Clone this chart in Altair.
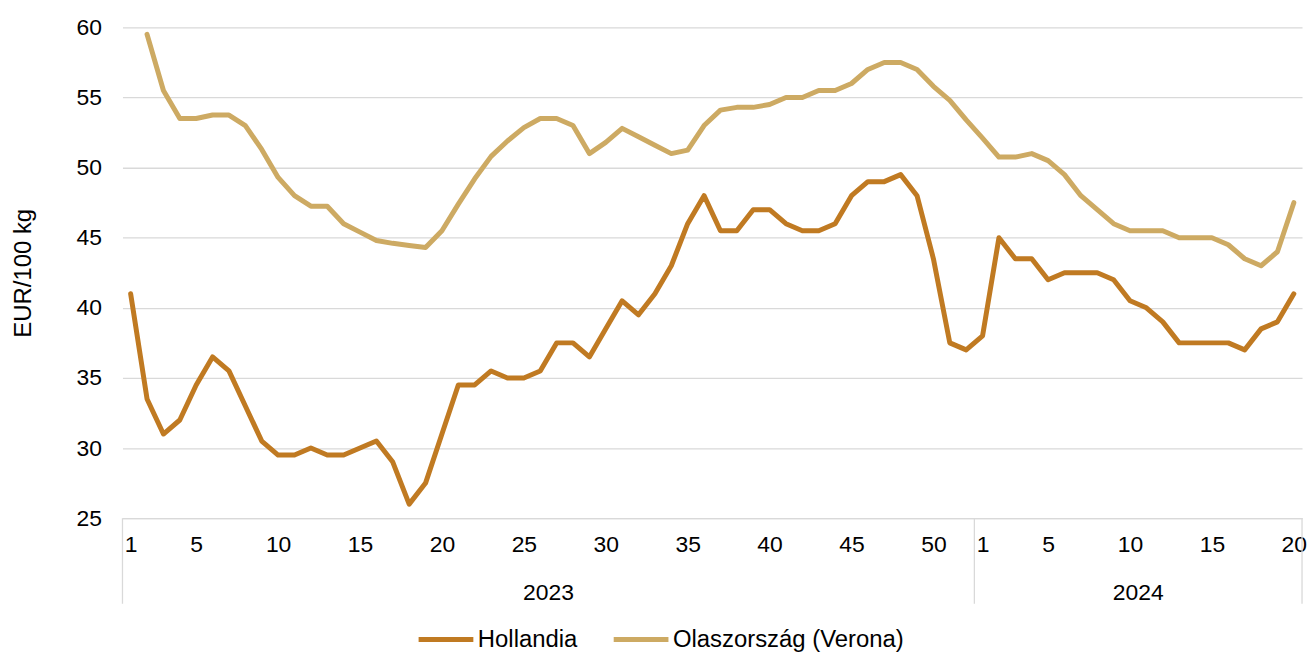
import altair as alt
import pandas as pd

# ---------------- data ----------------
series_names = ["Hollandia", "Olaszország (Verona)"]
series_colors = ["#C07A22", "#CDAA63"]

weeks_2023 = list(range(1, 53))
weeks_2024 = list(range(1, 21))

hollandia_2023 = [41, 33.5, 31, 32, 34.5, 36.5, 35.5, 33, 30.5, 29.5,
                  29.5, 30, 29.5, 29.5, 30, 30.5, 29, 26, 27.5, 31,
                  34.5, 34.5, 35.5, 35, 35, 35.5, 37.5, 37.5, 36.5, 38.5,
                  40.5, 39.5, 41, 43, 46, 48, 45.5, 45.5, 47, 47,
                  46, 45.5, 45.5, 46, 48, 49, 49, 49.5, 48, 43.5,
                  37.5, 37]
hollandia_2024 = [38, 45, 43.5, 43.5, 42, 42.5, 42.5, 42.5, 42, 40.5,
                  40, 39, 37.5, 37.5, 37.5, 37.5, 37, 38.5, 39, 41]

olasz_2023 = [None, 59.5, 55.5, 53.5, 53.5, 53.75, 53.75, 53, 51.3, 49.3,
              48, 47.25, 47.25, 46, 45.4, 44.8, 44.6, 44.45, 44.3, 45.5,
              47.4, 49.2, 50.8, 51.9, 52.85, 53.5, 53.5, 53, 51, 51.8,
              52.8, 52.2, 51.6, 51, 51.25, 53, 54.1, 54.3, 54.3, 54.5,
              55, 55, 55.5, 55.5, 56, 57, 57.5, 57.5, 57, 55.8,
              54.8, 53.4]
olasz_2024 = [52.1, 50.75, 50.75, 51, 50.5, 49.5, 48, 47, 46, 45.5,
              45.5, 45.5, 45, 45, 45, 44.5, 43.5, 43, 44, 47.5]

tick_weeks_2023 = [1, 5, 10, 15, 20, 25, 30, 35, 40, 45, 50]
tick_weeks_2024 = [1, 5, 10, 15, 20]

years = ["2023", "2024"]
y_ticks = [25, 30, 35, 40, 45, 50, 55, 60]

# ---------------- tables ----------------
n23 = len(weeks_2023)
rows = []
for name, v23, v24 in [(series_names[0], hollandia_2023, hollandia_2024),
                       (series_names[1], olasz_2023, olasz_2024)]:
    for i, v in enumerate(v23 + v24):
        if v is not None:
            rows.append({"series": name, "idx": i, "value": v})
df = pd.DataFrame(rows)

n_total = n23 + len(weeks_2024)
tick_idx = [w - 1 for w in tick_weeks_2023] + [n23 + w - 1 for w in tick_weeks_2024]
year_df = pd.DataFrame({"year": years,
                        "pos": [(n23 - 1) / 2, n23 + (len(weeks_2024) - 1) / 2]})
bound_df = pd.DataFrame({"pos": [-0.5, n23 - 0.5, n_total - 0.5]})

# ---------------- chart ----------------
W, H = 1185, 493
FONT = "Liberation Sans"
FS = 23
FS_BIG = 24
GRID = "#D9D9D9"

x_scale = alt.Scale(domain=[-0.5, n_total - 0.5], nice=False, zero=False)
y_scale = alt.Scale(domain=[25, 60], nice=False, zero=False)

x_axis = alt.Axis(values=tick_idx,
                  labelExpr=f"datum.value < {n23} ? datum.value + 1 : datum.value - {n23 - 1}",
                  title=None, grid=False, ticks=False,
                  domainColor=GRID, domainWidth=1.3,
                  labelFontSize=FS, labelPadding=16, labelColor="#000000",
                  labelFlush=False, labelOverlap=False)

lines = alt.Chart(df).mark_line(strokeWidth=5, strokeCap="round", strokeJoin="round").encode(
    x=alt.X("idx:Q", scale=x_scale, axis=x_axis),
    y=alt.Y("value:Q", scale=y_scale,
            axis=alt.Axis(values=y_ticks, title="EUR/100 kg", grid=True, gridColor=GRID,
                          gridWidth=1.3, domain=False, ticks=False,
                          labelFontSize=FS, labelPadding=21, labelColor="#000000",
                          titleFontSize=FS_BIG, titleFontWeight="normal", titleColor="#000000",
                          titleX=-99, titleY=H / 2, titleBaseline="middle")),
    color=alt.Color("series:N", scale=alt.Scale(domain=series_names, range=series_colors),
                    legend=alt.Legend(orient="none", legendX=295, legendY=585,
                                      direction="horizontal", title=None,
                                      symbolType="stroke", symbolSize=3025,
                                      symbolStrokeWidth=5, labelFontSize=FS_BIG,
                                      labelColor="#000000", labelOffset=2,
                                      labelLimit=0, columnPadding=25, padding=0)),
)

seps = alt.Chart(bound_df).mark_rule(color=GRID, strokeWidth=1.3).encode(
    x=alt.X("pos:Q", scale=x_scale, axis=x_axis),
    y=alt.value(H),
    y2=alt.value(H + 86),
)

year_text = alt.Chart(year_df).mark_text(fontSize=FS, font=FONT, baseline="middle",
                                         color="#000000").encode(
    x=alt.X("pos:Q", scale=x_scale, axis=x_axis),
    y=alt.value(H + 75),
    text="year:N",
)

chart = alt.layer(lines, seps, year_text).properties(
    width=W, height=H,
    autosize=alt.AutoSizeParams(type="none"),
    padding={"left": 115, "top": 18, "right": 5, "bottom": 138},
    background="white",
).configure_view(stroke="transparent").configure_axis(
    labelFont=FONT, titleFont=FONT
).configure_legend(labelFont=FONT)

chart.save("out.html", embed_options={"renderer": "svg", "actions": False})
